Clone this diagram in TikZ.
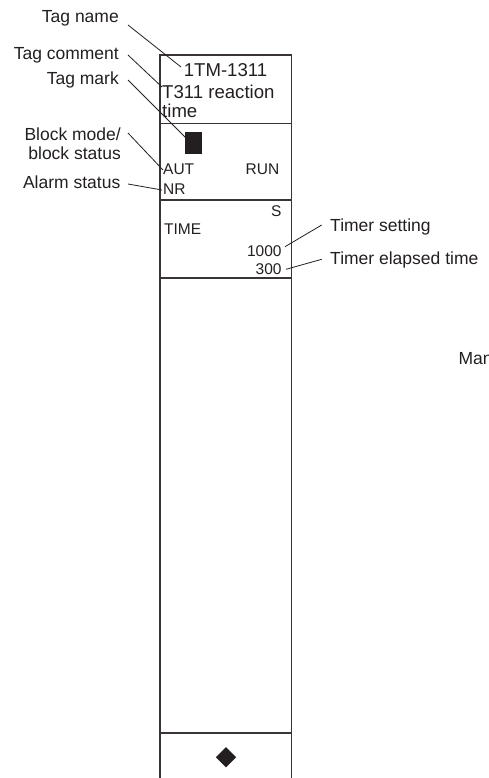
\documentclass[tikz,border=0pt]{standalone}
\usepackage{fontspec}
\setmainfont{Liberation Sans}
\usetikzlibrary{shapes.geometric}
\definecolor{ink}{HTML}{231F20}
\tikzset{
  frame/.style={draw=ink!90, line width=1.3pt},
  leader/.style={draw=ink, line width=0.8pt},
  lbl/.style={inner sep=0pt, font=\fontsize{17.5}{20}\selectfont, text=ink},
  hdr/.style={inner sep=0pt, font=\fontsize{18.6}{20}\selectfont, text=ink},
  inr/.style={inner sep=0pt, font=\fontsize{15.5}{18}\selectfont, text=ink},
}
\begin{document}
\begin{tikzpicture}[x=1pt,y=-1pt]
\useasboundingbox (0,0) rectangle (489,778);
% faceplate frame
\draw[frame] (160,778) -- (160,55) -- (291.5,55) -- (291.5,778);
\draw[frame] (160,123.5) -- (291.5,123.5);
\draw[frame] (160,200) -- (291.5,200);
\draw[frame] (160,278) -- (291.5,278);
\draw[frame] (160,733) -- (291.5,733);
% inner texts
\node[hdr, anchor=base] (tagn) at (225.5,76.7) {1TM-1311};
\node[hdr, anchor=base west] (tagc1) at (162,98.3) {T311 reaction};
\node[hdr, anchor=base west] (tagc2) at (162,117.7) {time};
\node[fill=ink, minimum width=16.5pt, minimum height=22pt, inner sep=0pt, anchor=north west] (mark) at (185,132) {};
\node[inr, anchor=base west] (aut) at (163,175) {AUT};
\node[inr, anchor=base east] (run) at (279.5,175) {RUN};
\node[inr, anchor=base west] (nr) at (163,194) {NR};
\node[inr, anchor=base east] (s) at (281.7,216) {S};
\node[inr, anchor=base west] (time) at (164,234) {TIME};
\node[inr, anchor=base east] (set) at (281.7,256.5) {1000};
\node[inr, anchor=base east] (ela) at (281.7,274.5) {300};
\node[diamond, fill=ink, inner sep=0pt, minimum width=20.5pt, minimum height=20.5pt] (dia) at (226,757.3) {};
% outside labels
\node[lbl, anchor=base east] (Ltn) at (119,23) {Tag name};
\node[lbl, anchor=base east] (Ltc) at (119,60) {Tag comment};
\node[lbl, anchor=base east] (Ltm) at (119,85) {Tag mark};
\node[lbl, anchor=base east] (Lbm1) at (121,141) {Block mode/};
\node[lbl, anchor=base east] (Lbm2) at (121,160) {block status};
\node[lbl, anchor=base east] (Las) at (120.5,189) {Alarm status};
\node[lbl, anchor=base west] (Lts) at (330,231) {Timer setting};
\node[lbl, anchor=base west] (Lte) at (330,264.5) {Timer elapsed time};
\node[lbl, anchor=base west] (Lman) at (458.3,364) {Man};
% leader end points
\coordinate (a1) at (128,25);   \coordinate (b1) at (181,67);
\coordinate (a2) at (128,55);   \coordinate (b2) at (162,87);
\coordinate (a3) at (128,80);   \coordinate (b3) at (187,139);
\coordinate (a4) at (128,133);  \coordinate (b4) at (163,170);
\coordinate (a5) at (128,184);  \coordinate (b5) at (162,190);
\coordinate (a6) at (321.7,225);  \coordinate (b6) at (285,246.7);
\coordinate (a7) at (321.7,259.3); \coordinate (b7) at (286,269.3);
\draw[leader] (a1) -- (b1);
\draw[leader] (a2) -- (b2);
\draw[leader] (a3) -- (b3);
\draw[leader] (a4) -- (b4);
\draw[leader] (a5) -- (b5);
\draw[leader] (a6) -- (b6);
\draw[leader] (a7) -- (b7);
\end{tikzpicture}
\end{document}
